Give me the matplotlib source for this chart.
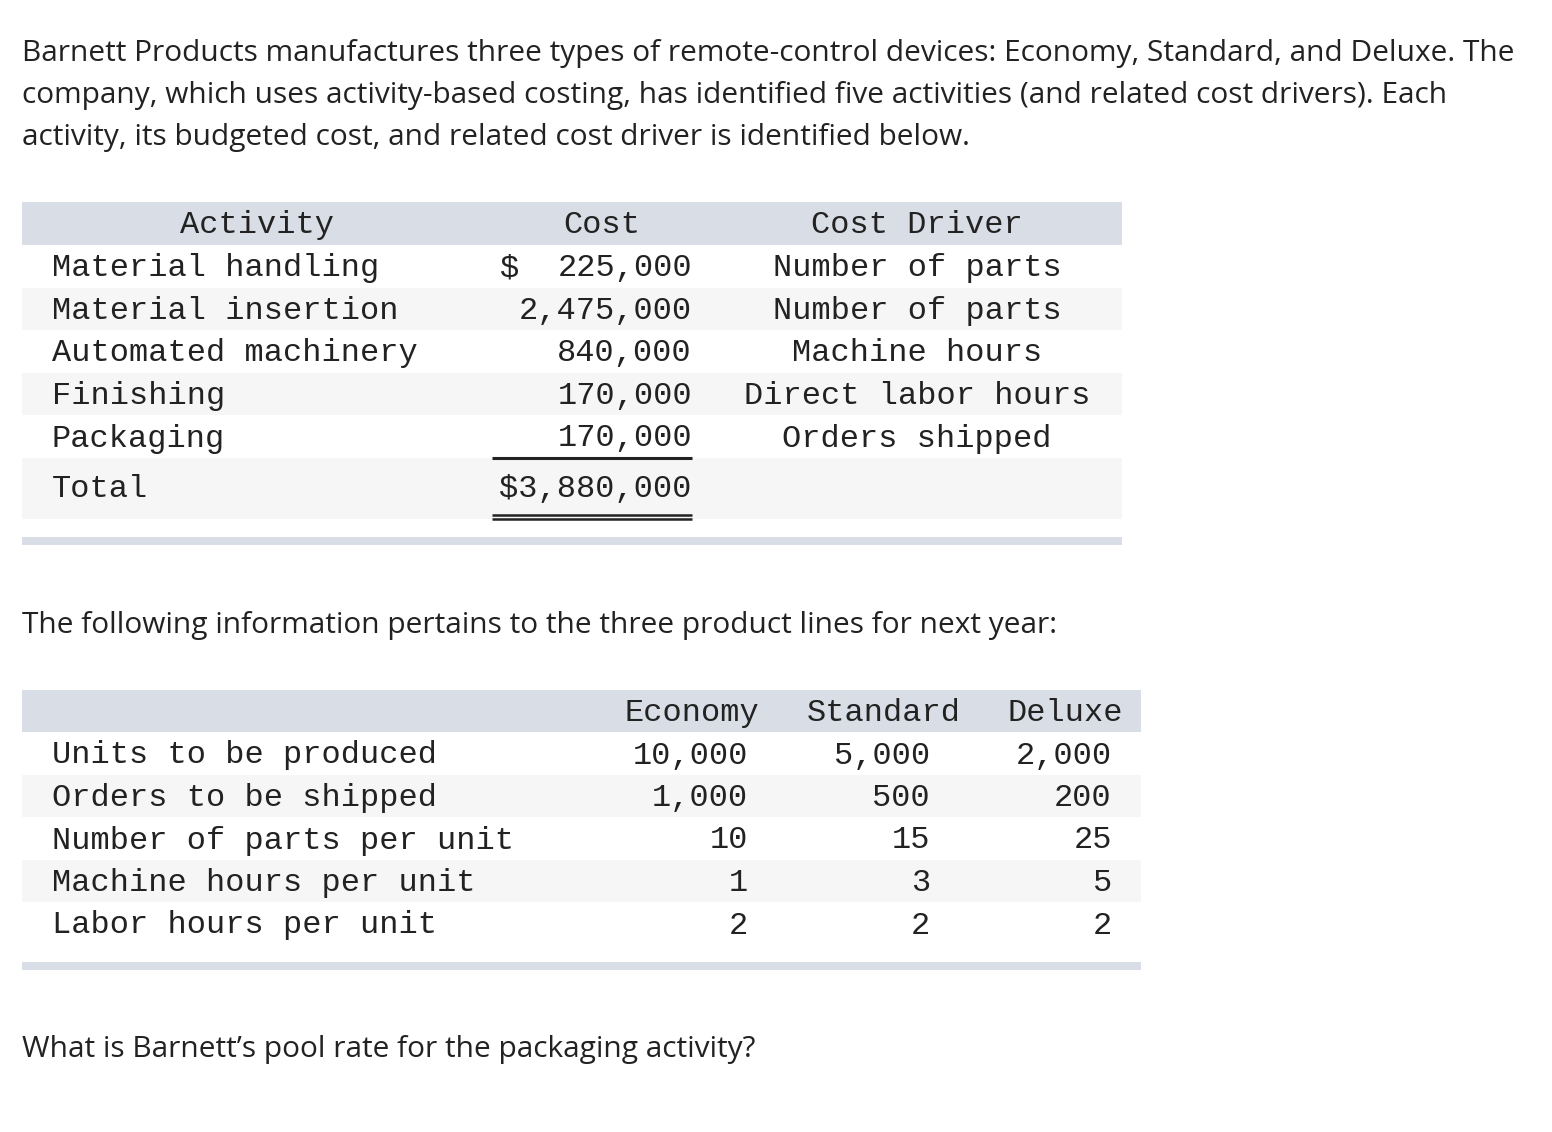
import matplotlib
matplotlib.use("Agg")
import matplotlib.pyplot as plt
from matplotlib.patches import Rectangle

# ---------------- data ----------------
intro_lines = [
    "Barnett Products manufactures three types of remote-control devices: Economy, Standard, and Deluxe. The",
    "company, which uses activity-based costing, has identified five activities (and related cost drivers). Each",
    "activity, its budgeted cost, and related cost driver is identified below.",
]
table1_headers = ["Activity", "Cost", "Cost Driver"]
activities = ["Material handling", "Material insertion", "Automated machinery", "Finishing", "Packaging"]
costs = [225000, 2475000, 840000, 170000, 170000]
drivers = ["Number of parts", "Number of parts", "Machine hours", "Direct labor hours", "Orders shipped"]
total_label = "Total"

middle_text = "The following information pertains to the three product lines for next year:"

products = ["Economy", "Standard", "Deluxe"]
row_labels = ["Units to be produced", "Orders to be shipped", "Number of parts per unit",
              "Machine hours per unit", "Labor hours per unit"]
units_produced = [10000, 5000, 2000]
orders_shipped = [1000, 500, 200]
parts_per_unit = [10, 15, 25]
machine_hours_per_unit = [1, 3, 5]
labor_hours_per_unit = [2, 2, 2]

question = "What is Barnett\u2019s pool rate for the packaging activity?"

# ---------------- style ----------------
W, H = 1552, 1132
HEADER_BG = "#d9dde6"
STRIPE_BG = "#f6f6f6"
TXT = "#222222"
SANS = "Open Sans"
MONO = "Liberation Mono"
SANS_SIZE = 21.5
MONO_SIZE = 23
MONO_DY = 2

fig = plt.figure(figsize=(W / 100, H / 100), dpi=100)
ax = fig.add_axes([0, 0, 1, 1])
ax.set_xlim(0, W)
ax.set_ylim(H, 0)
ax.axis("off")


def band(y0, y1, x0, x1, color):
    ax.add_patch(Rectangle((x0, y0), x1 - x0, y1 - y0, facecolor=color, edgecolor="none", zorder=0))


def mono(x, y, s, ha="left"):
    ax.text(x, y + MONO_DY, s, ha=ha, va="center", fontfamily=MONO, fontsize=MONO_SIZE, color=TXT)


def sans(x, y, s):
    ax.text(x, y, s, ha="left", va="center", fontfamily=SANS, fontsize=SANS_SIZE, color=TXT)


# intro paragraph
for i, line in enumerate(intro_lines):
    sans(22, 53 + i * 42.5, line)

# ---------------- table 1 ----------------
t1_x0, t1_x1 = 22, 1122
band(202, 245, t1_x0, t1_x1, HEADER_BG)
row_edges = [245, 287.5, 330, 372.5, 415, 458]
for i in range(len(activities)):
    if i % 2 == 1:
        band(row_edges[i], row_edges[i + 1], t1_x0, t1_x1, STRIPE_BG)
band(458, 519, t1_x0, t1_x1, STRIPE_BG)
band(537, 545, t1_x0, t1_x1, HEADER_BG)

hy = 223
mono(257, hy, table1_headers[0], ha="center")
mono(602, hy, table1_headers[1], ha="center")
mono(917, hy, table1_headers[2], ha="center")

cost_right = 692
for i, (a, c, d) in enumerate(zip(activities, costs, drivers)):
    y = (row_edges[i] + row_edges[i + 1]) / 2
    mono(52, y, a)
    mono(cost_right, y, f"{c:,}", ha="right")
    if i == 0:
        mono(500, y, "$")
    mono(917, y, d, ha="center")

total_y = 487
mono(52, total_y, total_label)
mono(cost_right, total_y, f"${sum(costs):,}", ha="right")

# underlines
ax.plot([492, 692], [458, 458], color="#222222", lw=2.2, solid_capstyle="butt")
ax.plot([492, 692], [514.5, 514.5], color="#222222", lw=1.8, solid_capstyle="butt")
ax.plot([492, 692], [518.5, 518.5], color="#222222", lw=1.8, solid_capstyle="butt")

# middle sentence
sans(22, 626, middle_text)

# ---------------- table 2 ----------------
t2_x0, t2_x1 = 22, 1141
band(690, 732, t2_x0, t2_x1, HEADER_BG)
r2_edges = [732, 775, 817, 860, 902, 945]
for i in range(len(row_labels)):
    if i % 2 == 1:
        band(r2_edges[i], r2_edges[i + 1], t2_x0, t2_x1, STRIPE_BG)
band(962, 970, t2_x0, t2_x1, HEADER_BG)

header_centers = [692, 884, 1065]
for p, cx in zip(products, header_centers):
    mono(cx, 711, p, ha="center")

value_rights = [748, 930, 1112]
table2 = [units_produced, orders_shipped, parts_per_unit, machine_hours_per_unit, labor_hours_per_unit]
for i, (lab, vals) in enumerate(zip(row_labels, table2)):
    y = (r2_edges[i] + r2_edges[i + 1]) / 2
    mono(52, y, lab)
    for v, xr in zip(vals, value_rights):
        mono(xr, y, f"{v:,}", ha="right")

# question
sans(22, 1050, question)

fig.savefig("out.png", dpi=100, facecolor="white")
